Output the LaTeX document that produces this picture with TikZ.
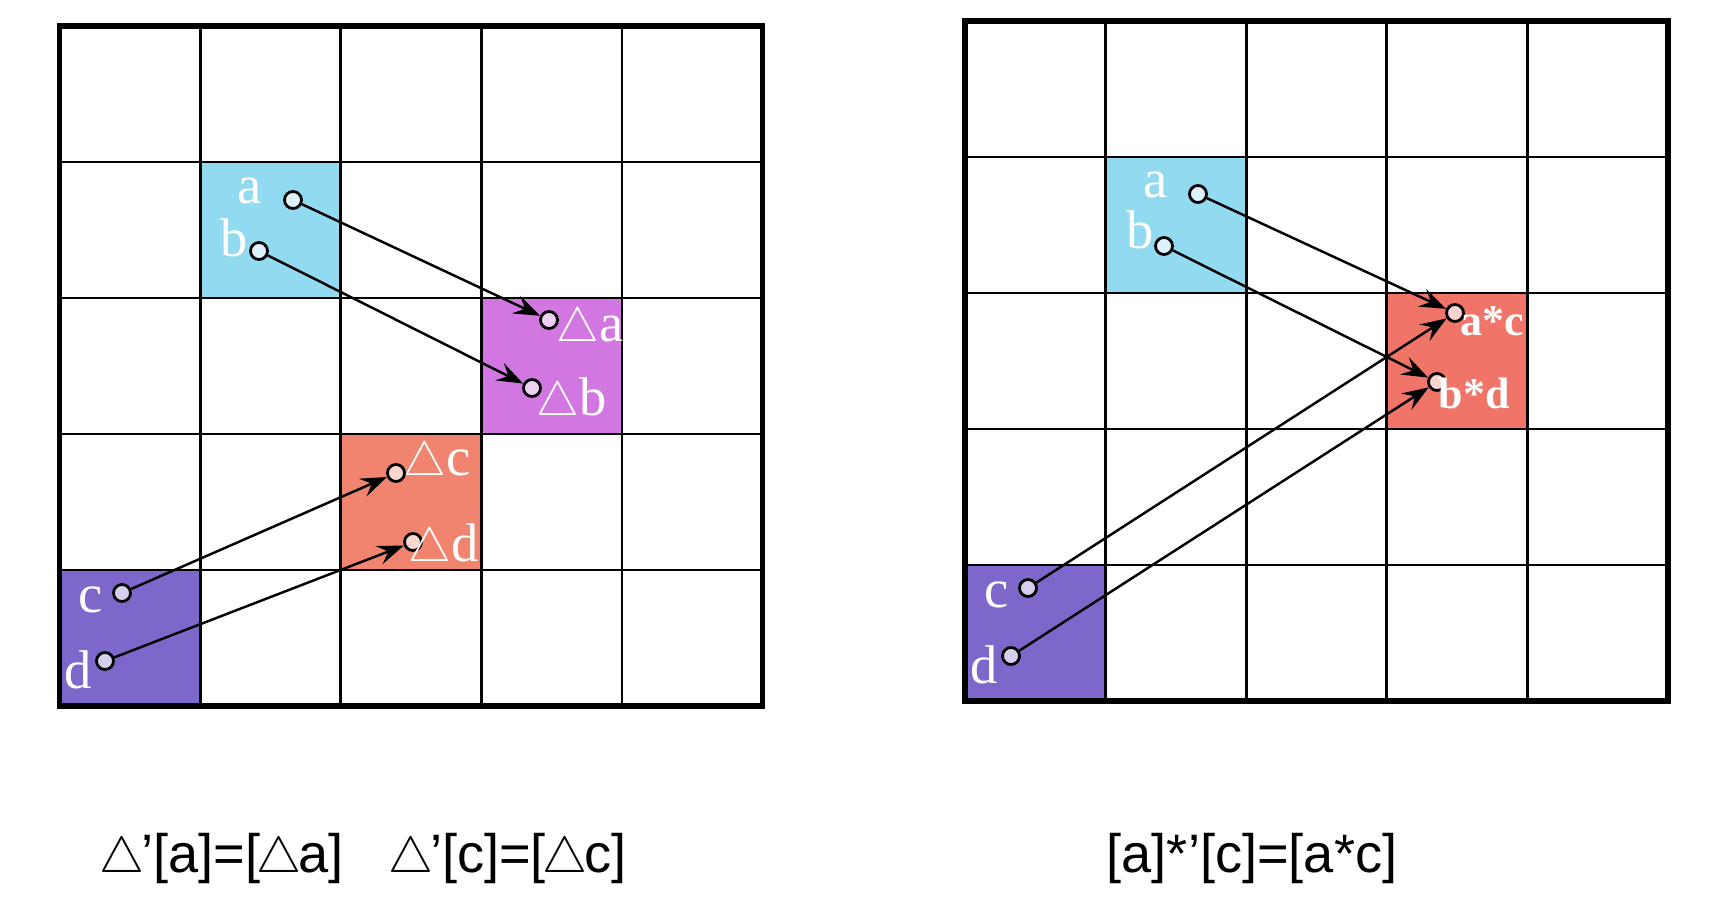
\documentclass[tikz,border=0pt]{standalone}
\usepackage{fontspec}
\setmainfont{Liberation Serif}
\newfontfamily\formulafont{Liberation Sans}
\usetikzlibrary{arrows.meta}
\definecolor{skycell}{HTML}{91DAF0}
\definecolor{skydot}{HTML}{DDF2FA}
\definecolor{orchidcell}{HTML}{D277E2}
\definecolor{orchiddot}{HTML}{EED0F3}
\definecolor{salmoncell}{HTML}{F1846E}
\definecolor{salmondot}{HTML}{F9D8CF}
\definecolor{redcell}{HTML}{F07468}
\definecolor{reddot}{HTML}{F9D3CF}
\definecolor{violetcell}{HTML}{7E67CA}
\definecolor{violetdot}{HTML}{D6CEEC}
\newcommand{\deltri}[1][0.95]{\scalebox{#1}{$\triangle$}}
\newcommand{\formtri}{\makebox[0.71em][c]{\scalebox{1.0}{$\triangle$}}}

\begin{document}
\begin{tikzpicture}[x=0.01cm, y=-0.01cm,
  gridline/.style={line width=0.8pt},
  frame/.style={line width=1.7pt},
  dot/.style={circle, draw, line width=0.8pt, minimum size=0.17cm, inner sep=0pt},
  conn/.style={-{Stealth[length=7.5pt,width=5.5pt,inset=2.8pt]}, line width=0.7pt},
  lab/.style={anchor=base, inner sep=0pt, text=white, font=\fontsize{15.5}{18}\selectfont},
  boldlab/.style={lab, font=\fontsize{12.5}{15}\selectfont\bfseries},
  formula/.style={anchor=base, inner sep=0pt, font=\formulafont\fontsize{15.4}{18}\selectfont}]
  \useasboundingbox (0,0) rectangle (1730,912);
  % coloured cells
  \fill[skycell]    (200,162) rectangle ++(141,136);
  \fill[orchidcell] (482,298) rectangle ++(141,136);
  \fill[salmoncell] (341,434) rectangle ++(141,136);
  \fill[violetcell] (59.5,570) rectangle ++(141,136);
  \fill[skycell]    (1105.5,157) rectangle ++(140.5,136);
  \fill[redcell]    (1386.5,293) rectangle ++(140.5,136);
  \fill[violetcell] (965,565) rectangle ++(140.5,136);
  % the two grids
  \foreach \gx/\gy in {59.5/26, 965/21} {
    \foreach \i in {1,...,4} {
      \draw[gridline] (\gx+\i*140.6, \gy) -- ++(0,680);
      \draw[gridline] (\gx, \gy+\i*136) -- ++(703,0);
    }
    \draw[frame] (\gx,\gy) rectangle ++(703,680);
  }
  % left grid
  \node[dot, fill=skydot]    (la)  at (293,200) {};
  \node[dot, fill=skydot]    (lb)  at (259,251) {};
  \node[dot, fill=orchiddot] (lta) at (549,320) {};
  \node[dot, fill=orchiddot] (ltb) at (532,388) {};
  \node[dot, fill=salmondot] (ltc) at (396,473) {};
  \node[dot, fill=salmondot] (ltd) at (413,542) {};
  \node[dot, fill=violetdot] (lc)  at (122,593) {};
  \node[dot, fill=violetdot] (ld)  at (105,661) {};
  \node[lab] (tla)  at (250,203) {a};
  \node[lab] (tlb)  at (234,256) {b};
  \node[lab] (tlta) at (590,341) {\deltri a};
  \node[lab] (tltb) at (572,415) {\deltri b};
  \node[lab] (tltc) at (437,475) {\deltri c};
  \node[lab] (tltd) at (444,561) {\deltri d};
  \node[lab] (tlc)  at (91,612) {c};
  \node[lab] (tld)  at (78,688) {d};
  \draw[conn] (la) -- (lta);
  \draw[conn] (lb) -- (ltb);
  \draw[conn] (lc) -- (ltc);
  \draw[conn] (ld) -- (ltd);
  % right grid
  \node[dot, fill=skydot]    (ra)  at (1198,194) {};
  \node[dot, fill=skydot]    (rb)  at (1164,246) {};
  \node[dot, fill=reddot]    (rac) at (1455,313) {};
  \node[dot, fill=reddot]    (rbd) at (1437,382) {};
  \node[dot, fill=violetdot] (rc)  at (1028,588) {};
  \node[dot, fill=violetdot] (rd)  at (1011,656) {};
  \node[lab] (tra)  at (1156,197) {a};
  \node[lab] (trb)  at (1140,248) {b};
  \node[boldlab] (trac) at (1492,335) {a*c};
  \node[boldlab] (trbd) at (1474,408) {b*d};
  \node[lab] (trc)  at (997,607) {c};
  \node[lab] (trd)  at (984,683) {d};
  \draw[conn] (ra) -- (rac);
  \draw[conn] (rb) -- (rbd);
  \draw[conn] (rc) -- (rac);
  \draw[conn] (rd) -- (rbd);
  % formulas
  \node[formula, anchor=base west] (fl1) at (102,872) {\formtri’[a]=[\formtri a]};
  \node[formula, anchor=base west] (fl2) at (391,872) {\formtri’[c]=[\formtri c]};
  \node[formula] (fr)  at (1252,872) {[a]*’[c]=[a*c]};
\end{tikzpicture}
\end{document}
